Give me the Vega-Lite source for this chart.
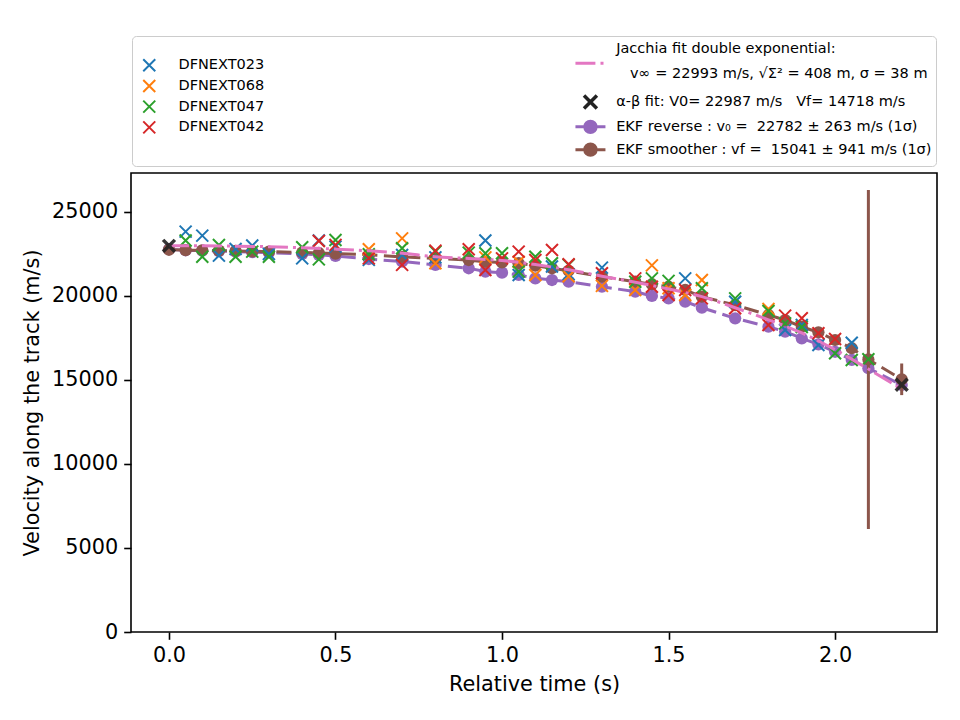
{
  "$schema": "https://vega.github.io/schema/vega-lite/v6.json",
  "width": 806,
  "height": 459,
  "autosize": {"type": "none"},
  "padding": {"left": 131, "top": 173, "right": 23, "bottom": 88},
  "background": "white",
  "config": {
    "font": "DejaVu Sans",
    "view": {"stroke": "#000000", "strokeWidth": 1.6},
    "axis": {
      "domain": false, "grid": false, "tickColor": "#000000", "tickSize": 7.3, "tickWidth": 1.6,
      "labelFont": "DejaVu Sans", "labelFontSize": 20.8, "labelColor": "#000000", "labelPadding": 6,
      "titleFont": "DejaVu Sans", "titleFontSize": 20.8, "titleFontWeight": "normal", "titleColor": "#000000"
    },
    "legend": {"labelFont": "DejaVu Sans", "labelColor": "#000000", "titleFont": "DejaVu Sans"}
  },
  "datasets": {
    "obs": [
      {"t": 0.05, "v": 23830, "s": "DFNEXT023"}, {"t": 0.1, "v": 23590, "s": "DFNEXT023"}, {"t": 0.15, "v": 22400, "s": "DFNEXT023"},
      {"t": 0.2, "v": 22800, "s": "DFNEXT023"}, {"t": 0.25, "v": 23000, "s": "DFNEXT023"}, {"t": 0.3, "v": 22500, "s": "DFNEXT023"},
      {"t": 0.4, "v": 22240, "s": "DFNEXT023"}, {"t": 0.45, "v": 23300, "s": "DFNEXT023"}, {"t": 0.5, "v": 22940, "s": "DFNEXT023"},
      {"t": 0.6, "v": 22150, "s": "DFNEXT023"}, {"t": 0.7, "v": 22440, "s": "DFNEXT023"}, {"t": 0.8, "v": 22300, "s": "DFNEXT023"},
      {"t": 0.95, "v": 23300, "s": "DFNEXT023"}, {"t": 1.05, "v": 21250, "s": "DFNEXT023"}, {"t": 1.15, "v": 21750, "s": "DFNEXT023"},
      {"t": 1.2, "v": 21300, "s": "DFNEXT023"}, {"t": 1.3, "v": 21690, "s": "DFNEXT023"}, {"t": 1.55, "v": 21050, "s": "DFNEXT023"},
      {"t": 1.7, "v": 19660, "s": "DFNEXT023"}, {"t": 1.85, "v": 17980, "s": "DFNEXT023"}, {"t": 1.9, "v": 18270, "s": "DFNEXT023"},
      {"t": 1.95, "v": 17080, "s": "DFNEXT023"}, {"t": 2.05, "v": 17220, "s": "DFNEXT023"},
      {"t": 0.6, "v": 22780, "s": "DFNEXT068"}, {"t": 0.7, "v": 23430, "s": "DFNEXT068"}, {"t": 0.8, "v": 21950, "s": "DFNEXT068"},
      {"t": 0.95, "v": 22300, "s": "DFNEXT068"}, {"t": 1.05, "v": 22040, "s": "DFNEXT068"}, {"t": 1.1, "v": 21250, "s": "DFNEXT068"},
      {"t": 1.2, "v": 21170, "s": "DFNEXT068"}, {"t": 1.3, "v": 20600, "s": "DFNEXT068"}, {"t": 1.4, "v": 20360, "s": "DFNEXT068"},
      {"t": 1.45, "v": 21820, "s": "DFNEXT068"}, {"t": 1.5, "v": 20460, "s": "DFNEXT068"}, {"t": 1.55, "v": 20060, "s": "DFNEXT068"},
      {"t": 1.6, "v": 20950, "s": "DFNEXT068"}, {"t": 1.8, "v": 19230, "s": "DFNEXT068"},
      {"t": 0.05, "v": 23300, "s": "DFNEXT047"}, {"t": 0.1, "v": 22340, "s": "DFNEXT047"}, {"t": 0.15, "v": 23036, "s": "DFNEXT047"},
      {"t": 0.2, "v": 22340, "s": "DFNEXT047"}, {"t": 0.25, "v": 22640, "s": "DFNEXT047"}, {"t": 0.3, "v": 22340, "s": "DFNEXT047"},
      {"t": 0.4, "v": 22900, "s": "DFNEXT047"}, {"t": 0.45, "v": 22180, "s": "DFNEXT047"}, {"t": 0.5, "v": 23330, "s": "DFNEXT047"},
      {"t": 0.6, "v": 22480, "s": "DFNEXT047"}, {"t": 0.7, "v": 22840, "s": "DFNEXT047"}, {"t": 0.8, "v": 22640, "s": "DFNEXT047"},
      {"t": 0.9, "v": 22580, "s": "DFNEXT047"}, {"t": 0.95, "v": 22540, "s": "DFNEXT047"}, {"t": 1.0, "v": 22540, "s": "DFNEXT047"},
      {"t": 1.05, "v": 21450, "s": "DFNEXT047"}, {"t": 1.1, "v": 22340, "s": "DFNEXT047"}, {"t": 1.15, "v": 21950, "s": "DFNEXT047"},
      {"t": 1.2, "v": 21850, "s": "DFNEXT047"}, {"t": 1.4, "v": 20850, "s": "DFNEXT047"}, {"t": 1.45, "v": 21050, "s": "DFNEXT047"},
      {"t": 1.5, "v": 20900, "s": "DFNEXT047"}, {"t": 1.6, "v": 20460, "s": "DFNEXT047"}, {"t": 1.7, "v": 19860, "s": "DFNEXT047"},
      {"t": 1.8, "v": 19110, "s": "DFNEXT047"}, {"t": 1.85, "v": 18370, "s": "DFNEXT047"}, {"t": 1.9, "v": 18150, "s": "DFNEXT047"},
      {"t": 2.0, "v": 16590, "s": "DFNEXT047"}, {"t": 2.05, "v": 16190, "s": "DFNEXT047"}, {"t": 2.1, "v": 16230, "s": "DFNEXT047"},
      {"t": 0.45, "v": 23270, "s": "DFNEXT042"}, {"t": 0.5, "v": 23040, "s": "DFNEXT042"}, {"t": 0.6, "v": 22240, "s": "DFNEXT042"},
      {"t": 0.7, "v": 21850, "s": "DFNEXT042"}, {"t": 0.8, "v": 22700, "s": "DFNEXT042"}, {"t": 0.9, "v": 22780, "s": "DFNEXT042"},
      {"t": 0.95, "v": 21550, "s": "DFNEXT042"}, {"t": 1.0, "v": 22240, "s": "DFNEXT042"}, {"t": 1.05, "v": 22640, "s": "DFNEXT042"},
      {"t": 1.1, "v": 22140, "s": "DFNEXT042"}, {"t": 1.15, "v": 22740, "s": "DFNEXT042"}, {"t": 1.2, "v": 21890, "s": "DFNEXT042"},
      {"t": 1.3, "v": 21350, "s": "DFNEXT042"}, {"t": 1.4, "v": 21050, "s": "DFNEXT042"}, {"t": 1.45, "v": 20550, "s": "DFNEXT042"},
      {"t": 1.5, "v": 20060, "s": "DFNEXT042"}, {"t": 1.55, "v": 20360, "s": "DFNEXT042"}, {"t": 1.6, "v": 19860, "s": "DFNEXT042"},
      {"t": 1.7, "v": 19270, "s": "DFNEXT042"}, {"t": 1.8, "v": 18270, "s": "DFNEXT042"}, {"t": 1.85, "v": 18830, "s": "DFNEXT042"},
      {"t": 1.9, "v": 18670, "s": "DFNEXT042"}, {"t": 1.95, "v": 17780, "s": "DFNEXT042"}, {"t": 2.0, "v": 17440, "s": "DFNEXT042"}
    ],
    "jac": [
      {"t": 0.0, "v": 22993}, {"t": 0.1, "v": 22985}, {"t": 0.2, "v": 22965}, {"t": 0.3, "v": 22930}, {"t": 0.4, "v": 22870},
      {"t": 0.5, "v": 22790}, {"t": 0.6, "v": 22690}, {"t": 0.7, "v": 22540}, {"t": 0.8, "v": 22340}, {"t": 0.9, "v": 22230},
      {"t": 1.0, "v": 22110}, {"t": 1.1, "v": 21870}, {"t": 1.2, "v": 21560}, {"t": 1.3, "v": 21180}, {"t": 1.4, "v": 20820},
      {"t": 1.5, "v": 20420}, {"t": 1.6, "v": 19960}, {"t": 1.7, "v": 19300}, {"t": 1.8, "v": 18580}, {"t": 1.9, "v": 17800},
      {"t": 2.0, "v": 16800}, {"t": 2.1, "v": 15650}, {"t": 2.2, "v": 14450}
    ],
    "ab": [{"t": 0.0, "v": 22987}, {"t": 2.2, "v": 14718}],
    "rev": [
      {"t": 0.0, "v": 22782}, {"t": 0.05, "v": 22720}, {"t": 0.1, "v": 22700}, {"t": 0.15, "v": 22670}, {"t": 0.2, "v": 22640},
      {"t": 0.25, "v": 22610}, {"t": 0.3, "v": 22580}, {"t": 0.4, "v": 22500}, {"t": 0.45, "v": 22450}, {"t": 0.5, "v": 22380},
      {"t": 0.6, "v": 22200}, {"t": 0.7, "v": 22050}, {"t": 0.8, "v": 21850}, {"t": 0.9, "v": 21650}, {"t": 0.95, "v": 21450},
      {"t": 1.0, "v": 21390}, {"t": 1.05, "v": 21250}, {"t": 1.1, "v": 21050}, {"t": 1.15, "v": 20950}, {"t": 1.2, "v": 20850},
      {"t": 1.3, "v": 20550}, {"t": 1.4, "v": 20260}, {"t": 1.45, "v": 20000}, {"t": 1.5, "v": 19860}, {"t": 1.55, "v": 19660},
      {"t": 1.6, "v": 19300}, {"t": 1.7, "v": 18670}, {"t": 1.8, "v": 18170}, {"t": 1.85, "v": 17880}, {"t": 1.9, "v": 17480},
      {"t": 1.95, "v": 17120}, {"t": 2.0, "v": 16680}, {"t": 2.05, "v": 16190}, {"t": 2.1, "v": 15700}, {"t": 2.2, "v": 14700}
    ],
    "smo": [
      {"t": 0.0, "v": 22750}, {"t": 0.05, "v": 22730}, {"t": 0.1, "v": 22720}, {"t": 0.15, "v": 22700}, {"t": 0.2, "v": 22680},
      {"t": 0.25, "v": 22660}, {"t": 0.3, "v": 22640}, {"t": 0.4, "v": 22590}, {"t": 0.45, "v": 22560}, {"t": 0.5, "v": 22520},
      {"t": 0.6, "v": 22450}, {"t": 0.7, "v": 22330}, {"t": 0.8, "v": 22230}, {"t": 0.9, "v": 22140}, {"t": 0.95, "v": 22040},
      {"t": 1.0, "v": 22000}, {"t": 1.05, "v": 21950}, {"t": 1.1, "v": 21800}, {"t": 1.15, "v": 21650}, {"t": 1.2, "v": 21500},
      {"t": 1.3, "v": 21150}, {"t": 1.4, "v": 20850}, {"t": 1.45, "v": 20700}, {"t": 1.5, "v": 20550}, {"t": 1.55, "v": 20360},
      {"t": 1.6, "v": 19960}, {"t": 1.7, "v": 19460}, {"t": 1.8, "v": 18870}, {"t": 1.85, "v": 18570}, {"t": 1.9, "v": 18170},
      {"t": 1.95, "v": 17840}, {"t": 2.0, "v": 17380}, {"t": 2.05, "v": 16890}, {"t": 2.1, "v": 16220}, {"t": 2.2, "v": 15041}
    ],
    "err": [
      {"t": 2.1, "lo": 6130, "hi": 26310},
      {"t": 2.2, "lo": 14100, "hi": 15982}
    ]
  },
  "encoding": {
    "x": {
      "field": "t", "type": "quantitative",
      "scale": {"domain": [-0.114, 2.306], "nice": false, "zero": false},
      "axis": {"title": "Relative time (s)", "values": [0, 0.5, 1, 1.5, 2], "format": ".1f", "titlePadding": 9}
    },
    "y": {
      "field": "v", "type": "quantitative",
      "scale": {"domain": [0, 27320], "nice": false},
      "axis": {"title": "Velocity along the track (m/s)", "values": [0, 5000, 10000, 15000, 20000, 25000], "format": "d", "titlePadding": 9}
    }
  },
  "layer": [
    {
      "data": {"name": "rev"},
      "mark": {"type": "line", "strokeDash": [15, 6.5], "strokeWidth": 3},
      "encoding": {
        "color": {
          "datum": "rev", "type": "nominal",
          "scale": {"domain": ["jac", "ab", "rev", "smo"], "range": ["#e377c2", "#222222", "#9467bd", "#8c564b"]},
          "legend": {
            "orient": "none", "legendX": 1, "legendY": -137,
            "title": "0000000000000000000000000000000",
            "titleColor": "rgba(0,0,0,0)",
            "titleOrient": "left", "titleAngle": 0, "titleFontSize": 20, "titleLimit": 3000, "titlePadding": 15.2,
            "strokeColor": "#cccccc", "cornerRadius": 4, "padding": 4,
            "labelFontSize": 14.5, "labelOffset": 18.5, "labelLimit": 2000, "rowPadding": -1.2,
            "symbolSize": 900,
            "labelExpr": "datum.value == 'jac' ? ['Jacchia fit double exponential:', '\u200b\u00a0\u00a0\u00a0v∞ = 22993 m/s, √Σ² = 408 m, σ = 38 m'] : datum.value == 'ab' ? 'α-β fit: V0= 22987 m/s\u00a0\u00a0\u00a0Vf= 14718 m/s' : datum.value == 'rev' ? 'EKF reverse : v₀ =\u00a0\u00a022782 ± 263 m/s (1σ)' : 'EKF smoother : vf =\u00a0\u00a015041 ± 941 m/s (1σ)'",
            "encode": {
              "labels": {"update": {
                "lineHeight": {"signal": "datum.value == 'jac' ? 25 : null"},
                "dy": {"signal": "datum.value == 'jac' ? 2 : 0"}
              }},
              "symbols": {"update": {
                "shape": {"signal": "datum.value == 'jac' ? 'M-1,1.07H0.33M0.67,1.07H0.87M0,2.32L0,2.32' : datum.value == 'ab' ? 'M-0.43,-0.43L0.43,0.43M-0.43,0.43L0.43,-0.43' : 'M-1,0H1M0.38,0A0.38,0.38,0,1,1,-0.38,0A0.38,0.38,0,1,1,0.38,0'"},
                "fill": {"signal": "datum.value == 'rev' ? '#9467bd' : datum.value == 'smo' ? '#8c564b' : 'transparent'"},
                "strokeWidth": {"signal": "datum.value == 'ab' ? 3.5 : 3"},
                "size": {"value": 900},
                "opacity": {"value": 1}
              }}
            }
          }
        }
      }
    },
    {
      "data": {"name": "rev"},
      "mark": {"type": "point", "shape": "circle", "filled": true, "size": 150, "opacity": 1},
      "encoding": {"color": {"datum": "rev", "type": "nominal"}}
    },
    {
      "data": {"name": "smo"},
      "mark": {"type": "line", "strokeDash": [15, 6.5], "strokeWidth": 3},
      "encoding": {"color": {"datum": "smo", "type": "nominal"}}
    },
    {
      "data": {"name": "err"},
      "mark": {"type": "rule", "strokeWidth": 3},
      "encoding": {
        "y": {"field": "lo", "type": "quantitative"},
        "y2": {"field": "hi"},
        "color": {"datum": "smo", "type": "nominal"}
      }
    },
    {
      "data": {"name": "smo"},
      "mark": {"type": "point", "shape": "circle", "filled": true, "size": 150, "opacity": 1},
      "encoding": {"color": {"datum": "smo", "type": "nominal"}}
    },
    {
      "data": {"name": "obs"},
      "mark": {"type": "point", "shape": "M-1,-1L1,1M-1,1L1,-1", "filled": false, "size": 144, "strokeWidth": 2, "opacity": 1},
      "encoding": {
        "stroke": {
          "field": "s", "type": "nominal",
          "scale": {"domain": ["DFNEXT023", "DFNEXT068", "DFNEXT047", "DFNEXT042"], "range": ["#1f77b4", "#ff7f0e", "#2ca02c", "#d62728"]},
          "legend": {
            "orient": "none", "legendX": 11, "legendY": -115, "title": null, "padding": 0,
            "symbolType": "M-1,-1L1,1M-1,1L1,-1", "symbolSize": 144, "symbolStrokeWidth": 2,
            "labelFontSize": 14.5, "labelOffset": 22, "rowPadding": -0.3, "zindex": 2
          }
        }
      }
    },
    {
      "data": {"name": "jac"},
      "mark": {"type": "line", "strokeDash": [20, 5, 3, 5], "strokeWidth": 3, "interpolate": "monotone"},
      "encoding": {"color": {"datum": "jac", "type": "nominal"}}
    },
    {
      "data": {"name": "ab"},
      "mark": {"type": "point", "shape": "M-1,-1L1,1M-1,1L1,-1", "filled": false, "size": 140, "strokeWidth": 3.5, "opacity": 0.9},
      "encoding": {"color": {"datum": "ab", "type": "nominal"}}
    }
  ]
}
